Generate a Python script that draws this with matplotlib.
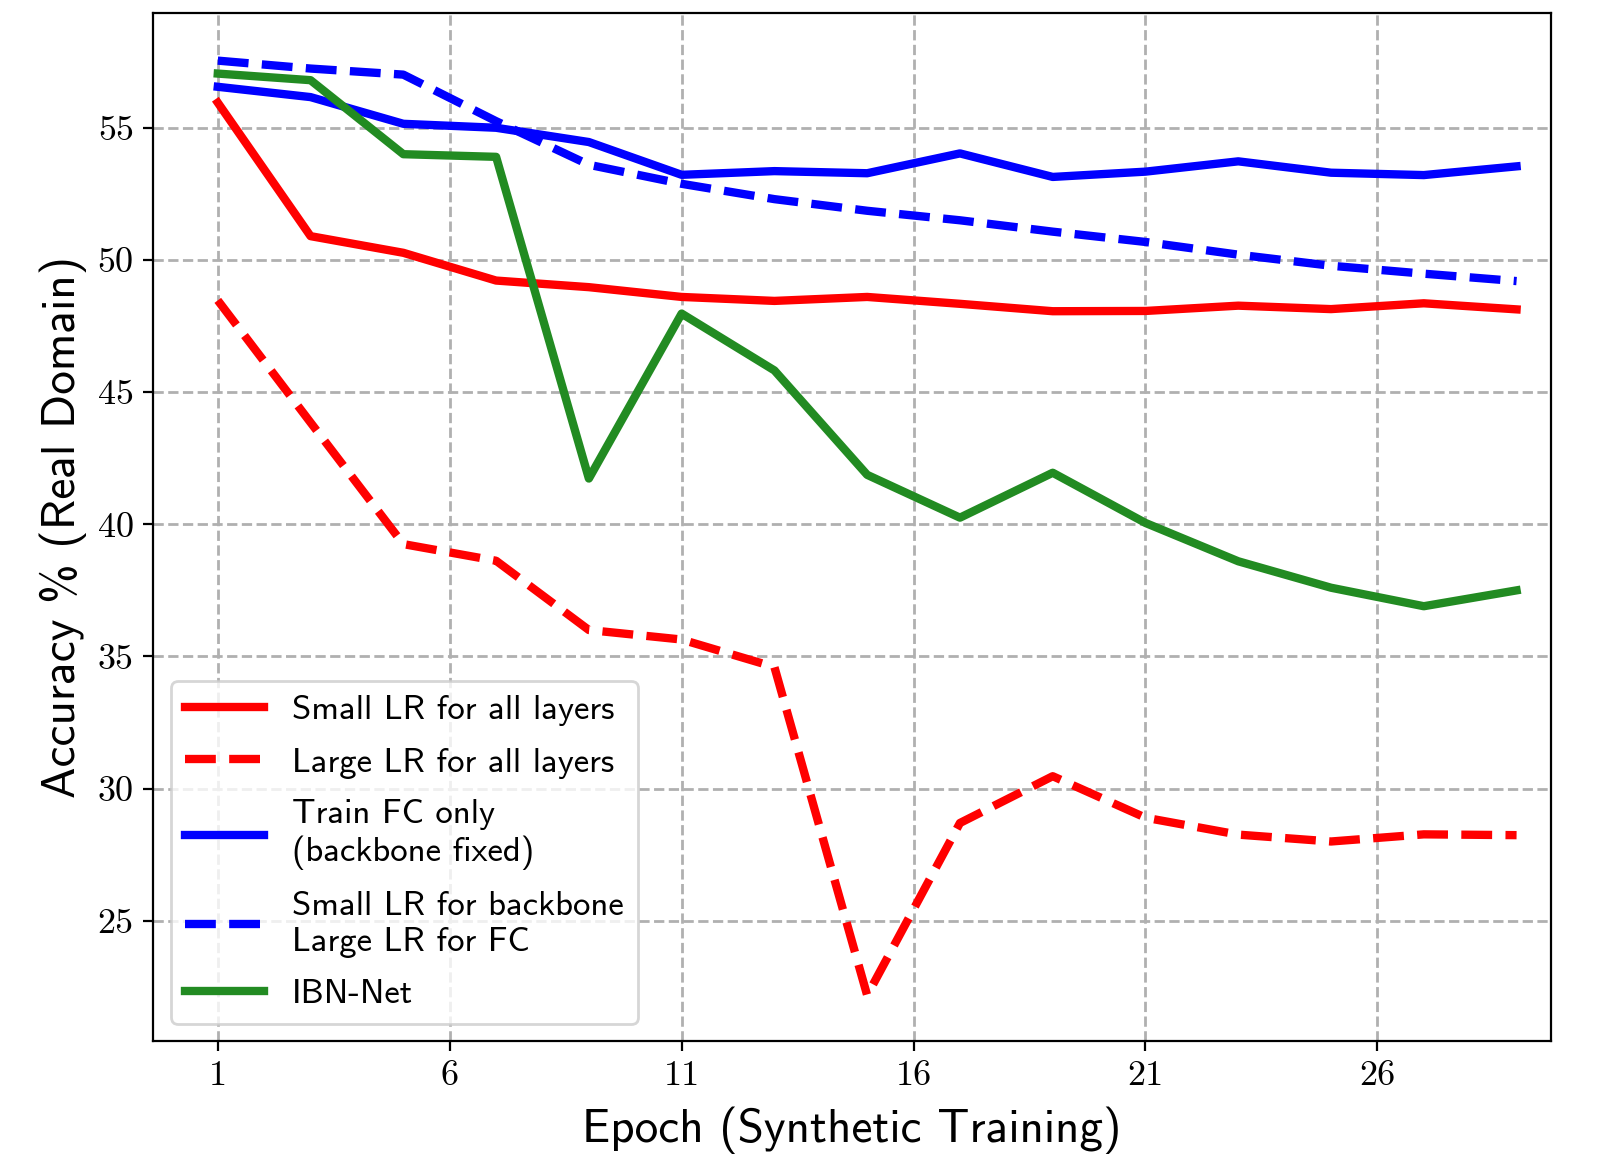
import matplotlib
matplotlib.use("Agg")
import matplotlib.pyplot as plt

epochs = [1, 3, 5, 7, 9, 11, 13, 15, 17, 19, 21, 23, 25, 27, 29]
small_lr_all = [55.95, 50.9, 50.27, 49.22, 48.97, 48.6, 48.45, 48.6, 48.34, 48.06, 48.07, 48.27, 48.14, 48.36, 48.13]
large_lr_all = [48.47, 43.85, 39.25, 38.62, 36.0, 35.64, 34.6, 22.18, 28.7, 30.47, 28.9, 28.26, 28.0, 28.27, 28.24]
train_fc_only = [56.55, 56.16, 55.15, 55.0, 54.46, 53.22, 53.36, 53.28, 54.03, 53.14, 53.34, 53.73, 53.3, 53.21, 53.54]
small_bb_large_fc = [57.54, 57.24, 57.01, 55.25, 53.6, 52.88, 52.3, 51.86, 51.5, 51.07, 50.68, 50.2, 49.78, 49.48, 49.2]
ibn_net = [57.05, 56.8, 54.0, 53.9, 41.73, 47.97, 45.82, 41.87, 40.25, 41.95, 40.05, 38.6, 37.6, 36.9, 37.5]

labels = ["Small LR for all layers", "Large LR for all layers",
          "Train FC only\n(backbone fixed)", "Small LR for backbone\nLarge LR for FC",
          "IBN-Net"]
xticks = [1, 6, 11, 16, 21, 26]
yticks = [25, 30, 35, 40, 45, 50, 55]

plt.rcParams['font.family'] = ['cmss10', 'DejaVu Sans']
plt.rcParams['axes.unicode_minus'] = False

fig = plt.figure(figsize=(8.01, 5.785), dpi=200)
ax = fig.add_axes([0.0957, 0.1002, 0.8724, 0.8883])

lw = 3
ax.plot(epochs, small_lr_all, color='red', lw=lw, ls='-', label=labels[0])
ax.plot(epochs, large_lr_all, color='red', lw=lw, ls='--', label=labels[1])
ax.plot(epochs, train_fc_only, color='blue', lw=lw, ls='-', label=labels[2])
ax.plot(epochs, small_bb_large_fc, color='blue', lw=lw, ls='--', label=labels[3])
ax.plot(epochs, ibn_net, color='forestgreen', lw=lw, ls='-', label=labels[4])

ax.set_xlim(-0.39, 29.74)
ax.set_ylim(20.45, 59.33)
ax.set_xticks(xticks)
ax.set_yticks(yticks)
ax.set_xticklabels([str(t) for t in xticks], fontfamily=['cmr10', 'DejaVu Serif'], fontsize=13)
ax.set_yticklabels([str(t) for t in yticks], fontfamily=['cmr10', 'DejaVu Serif'], fontsize=13)

ax.grid(True, ls='--', color='#b0b0b0', lw=1.0)
ax.set_axisbelow(True)

ax.set_xlabel("Epoch (Synthetic Training)", fontsize=17, labelpad=5)
ax.set_ylabel("Accuracy % (Real Domain)", fontsize=17)

leg = ax.legend(loc='lower left', fontsize=12.5, framealpha=0.8,
                handlelength=2.3, labelspacing=0.6)

fig.savefig("out.png", dpi=200)
